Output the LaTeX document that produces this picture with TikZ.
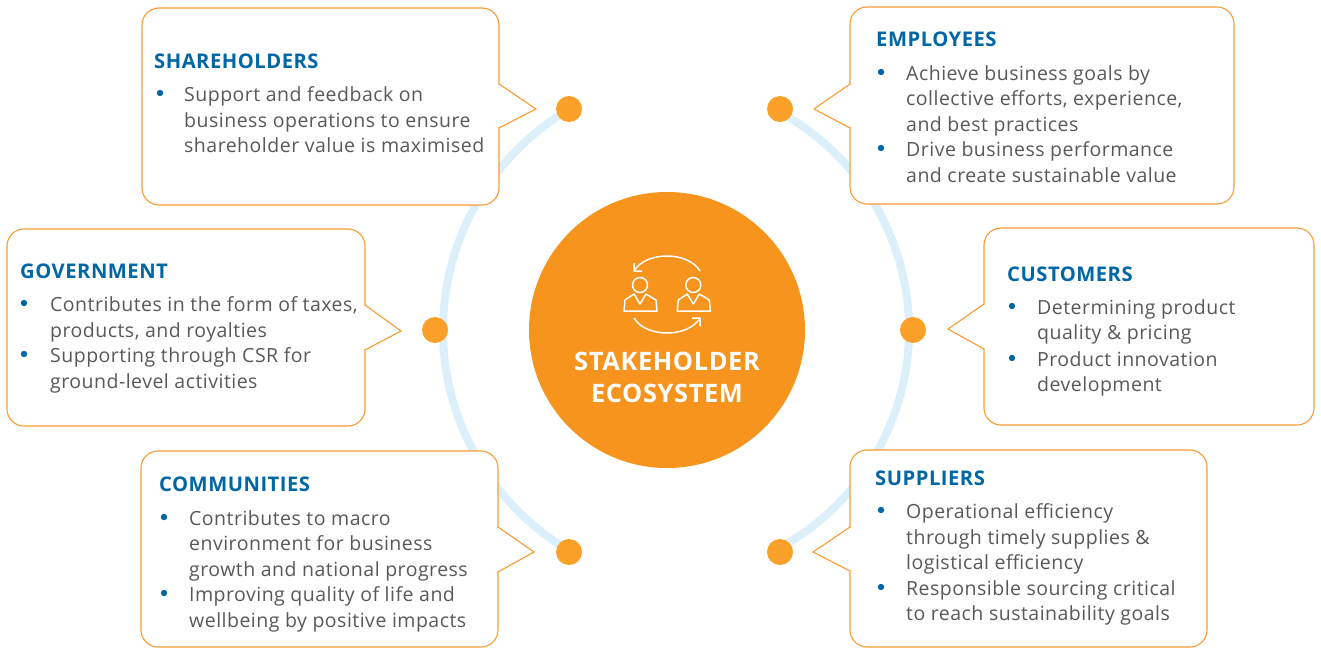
\documentclass[tikz,border=0pt]{standalone}
\usepackage{fontspec}
\setmainfont{Open Sans}[LetterSpace=2.5]
\usetikzlibrary{backgrounds}
\definecolor{hubOrange}{HTML}{F7941E}
\definecolor{dotOrange}{HTML}{FBA029}
\definecolor{lineOrange}{HTML}{F89C32}
\definecolor{ringBlue}{HTML}{DCF0FB}
\definecolor{headBlue}{HTML}{0066A6}
\definecolor{bodyGrey}{HTML}{58595B}
\tikzset{
  panel/.style = {draw=lineOrange, line width=1.1pt, fill=white, rounded corners=17pt,
    inner sep=0pt, outer sep=0pt, anchor=north west},
  pointer/.style = {draw=lineOrange, line width=1.1pt, fill=white},
  headline/.style = {anchor=base west, inner sep=0pt, text=headBlue,
    font=\fontsize{20.2}{24}\selectfont\bfseries},
  itemtext/.style = {anchor=north west, inner sep=0pt, align=left, text=bodyGrey, yshift=14.6pt,
    font=\fontsize{19.5}{25.5}\selectfont, execute at begin node=\strut},
  bulletdot/.style = {circle, fill=headBlue, inner sep=0pt, minimum size=6.4pt},
  hubdot/.style = {circle, fill=dotOrange, inner sep=0pt, minimum size=26pt},
  ring/.style = {draw=ringBlue, line width=8pt},
  hubtext/.style = {anchor=base, inner sep=0pt, text=white, font=\fontsize{25.4}{32}\selectfont\bfseries},
  iconline/.style = {draw=white, line width=1.5pt, line join=round}}
% one bullet and its text: name, bullet x, text x, baseline, lines
\newcommand{\bulletitem}[5]{
  \node[bulletdot] (#1 dot) at (#2,#4-8) {};
  \node[itemtext] (#1) at (#3,#4) {#5};
}
\begin{document}
\begin{tikzpicture}[x=1pt,y=-1pt]
\useasboundingbox (0,0) rectangle (1321,648);

\node[circle, fill=hubOrange, inner sep=0pt, minimum size=276pt] (hub) at (667,330) {};
\node[hubtext] (hub top) at (667,370) {STAKEHOLDER};
\node[hubtext] (hub bottom) at (667,402) {ECOSYSTEM};

% icon
\draw[iconline] (700,271) .. controls (688,251) and (646,251) .. (634,271) -- (634,263) (634,271) -- (642,271);
\draw[iconline] (634,318) .. controls (646,338) and (688,338) .. (700,318) -- (692,318) (700,318) -- (700,326);
\foreach \dx in {0,53.3}{
  \begin{scope}[xshift=\dx pt]
    \draw[iconline] (640,285) circle[radius=7.5pt];
    \draw[iconline] (624,311) -- (625,300) -- (634,294) -- (640,304) -- (646,294) -- (656,300) -- (657,311) -- cycle;
  \end{scope}
}

% dots
\node[hubdot] (dot nw) at (569,109) {};
\node[hubdot] (dot w) at (435,330) {};
\node[hubdot] (dot sw) at (569,552) {};
\node[hubdot] (dot ne) at (780,109) {};
\node[hubdot] (dot e) at (913,330) {};
\node[hubdot] (dot se) at (780,552) {};

\begin{pgfonlayer}{background}
  \coordinate (ring west) at (699,330);
  \coordinate (ring east) at (661,330);
  \draw[ring] (ring west) ++(120.5:256pt) arc[start angle=120.5, end angle=239.5, radius=256pt];
  \draw[ring] (ring east) ++(62:248pt) arc[start angle=62, end angle=-62, radius=248pt];
\end{pgfonlayer}

% panels
\node[panel, minimum width=357pt, minimum height=197pt] (shareholders) at (142,8) {};
\fill[white] (497,85) rectangle (500,127);
\draw[pointer] (499,84) -- (536,109) -- (499,128);
\node[headline] (shareholders head) at (154,68) {SHAREHOLDERS};
\bulletitem{shareholders a}{160}{184}{101}{Support and feedback on\\business operations to ensure\\shareholder value is maximised}

\node[panel, minimum width=384pt, minimum height=197pt] (employees) at (850,7) {};
\fill[white] (849,85) rectangle (852,127);
\draw[pointer] (850,84) -- (814,109) -- (850,128);
\node[headline] (employees head) at (876,46) {EMPLOYEES};
\bulletitem{employees a}{881}{906}{80}{Achieve business goals by\\collective efforts, experience,\\and best practices}
\bulletitem{employees b}{881}{906}{156}{Drive business performance\\and create sustainable value}

\node[panel, minimum width=358pt, minimum height=197pt] (government) at (7,229) {};
\fill[white] (363,306) rectangle (366,349);
\draw[pointer] (365,305) -- (401,331) -- (365,350);
\node[headline] (government head) at (20,278) {GOVERNMENT};
\bulletitem{government a}{24}{50}{311}{Contributes in the form of taxes,\\products, and royalties}
\bulletitem{government b}{24}{50}{362}{Supporting through CSR for\\ground-level activities}

\node[panel, minimum width=330pt, minimum height=197pt] (customers) at (984,228) {};
\fill[white] (983,305) rectangle (986,348);
\draw[pointer] (984,304) -- (948,329) -- (984,349);
\node[headline] (customers head) at (1007,281) {CUSTOMERS};
\bulletitem{customers a}{1012}{1037}{314}{Determining product\\quality \& pricing}
\bulletitem{customers b}{1012}{1037}{366}{Product innovation\\development}

\node[panel, minimum width=357pt, minimum height=196pt] (communities) at (141,451) {};
\fill[white] (496,528) rectangle (499,571);
\draw[pointer] (498,527) -- (534,552) -- (498,572);
\node[headline] (communities head) at (159,491) {COMMUNITIES};
\bulletitem{communities a}{164}{189}{525}{Contributes to macro\\environment for business\\growth and national progress}
\bulletitem{communities b}{164}{189}{601}{Improving quality of life and\\wellbeing by positive impacts}

\node[panel, minimum width=357pt, minimum height=197pt] (suppliers) at (850,450) {};
\fill[white] (849,528) rectangle (852,570);
\draw[pointer] (850,527) -- (813,552) -- (850,571);
\node[headline] (suppliers head) at (875,485) {SUPPLIERS};
\bulletitem{suppliers a}{881}{906}{518}{Operational efficiency\\through timely supplies \&\\logistical efficiency}
\bulletitem{suppliers b}{881}{906}{595}{Responsible sourcing critical\\to reach sustainability goals}
\end{tikzpicture}
\end{document}
